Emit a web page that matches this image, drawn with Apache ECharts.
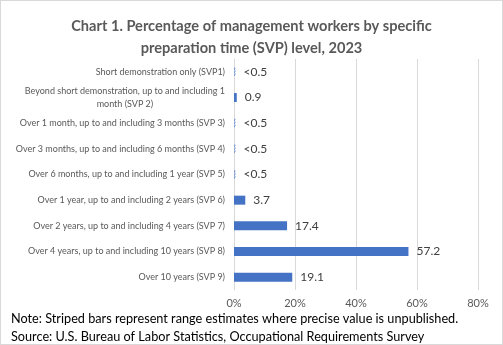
<!DOCTYPE html>
<html>
<head>
<meta charset="utf-8">
<script src="https://cdn.jsdelivr.net/npm/echarts@6/dist/echarts.min.js"></script>
<style>
  html, body { margin: 0; padding: 0; background: #fff; }
  #chart { width: 503px; height: 345px; box-sizing: border-box; border: 1px solid #d9d9d9; }
</style>
</head>
<body>
<div id="chart"></div>
<script>
// SVP levels, top to bottom
const categories = [
  'Short demonstration only (SVP1)',
  'Beyond short demonstration, up to and including 1\nmonth (SVP 2)',
  'Over 1 month, up to and including 3 months (SVP 3)',
  'Over 3 months, up to and including 6 months (SVP 4)',
  'Over 6 months, up to and including 1 year (SVP 5)',
  'Over 1 year, up to and including 2 years (SVP 6)',
  'Over 2 years, up to and including 4 years (SVP 7)',
  'Over 4 years, up to and including 10 years (SVP 8)',
  'Over 10 years (SVP 9)'
];
// Percent of workers; range estimates are drawn at their 0.5 upper bound
const values = [0.5, 0.9, 0.5, 0.5, 0.5, 3.7, 17.4, 57.2, 19.1];
// true where only a range estimate (<0.5) is published
const rangeEstimate = [true, false, true, true, true, false, false, false, false];
const tickValues = [0, 20, 40, 60, 80];

const BLUE = '#4472C4';
const FONT = 'Lato, "Open Sans", sans-serif';

const seriesData = values.map((v, i) => rangeEstimate[i]
  ? {
      value: v,
      itemStyle: { color: 'rgba(0,0,0,0)', borderColor: '#6f93d3', borderWidth: 1, borderType: [1.5, 1.5] },
      label: { formatter: '<0.5' }
    }
  : { value: v });

const chart = echarts.init(document.getElementById('chart'));
chart.setOption({
  animation: false,
  textStyle: { fontFamily: FONT },
  title: {
    text: 'Chart 1. Percentage of management workers by specific\npreparation time (SVP) level, 2023',
    left: 'center',
    top: 9,
    textStyle: { fontFamily: FONT, fontSize: 14.6, fontWeight: 'bold', color: '#595959', lineHeight: 22 }
  },
  graphic: [
    {
      type: 'text', left: 10, top: 311,
      style: { text: 'Note: Striped bars represent range estimates where precise value is unpublished.', font: '12.7px ' + FONT, fill: '#000' }
    },
    {
      type: 'text', left: 10, top: 329,
      style: { text: 'Source: U.S. Bureau of Labor Statistics, Occupational Requirements Survey', font: '12.7px ' + FONT, fill: '#000' }
    }
  ],
  grid: { left: 233, right: 24, top: 58, bottom: 54 },
  xAxis: {
    type: 'value',
    min: tickValues[0],
    max: tickValues[tickValues.length - 1],
    interval: 20,
    axisLine: { show: false },
    axisTick: { show: false },
    splitLine: { lineStyle: { color: '#d9d9d9', width: 1 } },
    axisLabel: { formatter: '{value}%', color: '#595959', fontSize: 11, margin: 8, fontFamily: FONT }
  },
  yAxis: {
    type: 'category',
    inverse: true,
    data: categories,
    axisLine: { show: true, lineStyle: { color: '#d9d9d9' } },
    axisTick: { show: false },
    axisLabel: {
      margin: 9,
      color: '#595959',
      fontSize: 9,
      fontFamily: FONT,
      formatter: v => v.split('\n').map(s => '{c|' + s + '}').join('\n'),
      rich: { c: { align: 'center', fontSize: 9, color: '#595959', fontFamily: FONT, lineHeight: 13 } }
    }
  },
  series: [{
    type: 'bar',
    data: seriesData,
    barWidth: 9,
    itemStyle: { color: BLUE },
    label: {
      show: true,
      position: 'right',
      distance: 8,
      color: '#404040',
      fontSize: 12,
      fontFamily: FONT
    }
  }]
});
</script>
</body>
</html>
